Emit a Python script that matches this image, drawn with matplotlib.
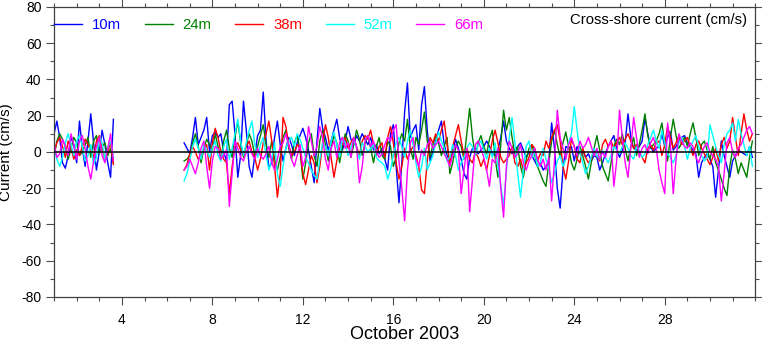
import matplotlib
matplotlib.use("Agg")
import matplotlib.pyplot as plt
from matplotlib.ticker import MultipleLocator
import numpy as np

plt.rcParams["font.family"] = ["Liberation Sans", "DejaVu Sans"]
plt.rcParams["axes.unicode_minus"] = False

# ---- data (cm/s), 3-hourly ----
depths = ["10m", "24m", "38m", "52m", "66m"]
colors = ["#0000ff", "#008000", "#ff0000", "#00ffff", "#ff00ff"]

start_a = 1.0     # first deployment piece (Oct 1.0 -> 3.6)
start_b = 6.75    # second piece (Oct 6.75 -> 31.9)
step = 0.125      # days

v10_a = [10, 17, 8, -6, -9, -2, 8, 4, -6, 17, 2, -8, 6, 21, 5, -10, 0, 12, 4, -6, -14, 18]
v24_a = [-3, 6, 10, 7, 3, -4, 2, 8, 5, -2, 0, 4, 8, -3, 6, 9, -1, 3, 5, -2, 2, -6]
v38_a = [0, 5, 8, 3, -3, 6, 2, -4, 1, -2, 3, 7, 4, 1, -3, 6, 9, 2, -4, 0, 5, -7]
v52_a = [2, -4, -8, -3, 5, 10, 4, -2, 6, 9, 3, -5, -2, 4, -7, -3, 8, 5, -4, 2, 6, -3]
v66_a = [5, -3, -1, 7, 3, -2, 10, 4, -4, 6, 9, 2, -8, -15, -5, 3, 8, -2, -6, 2, 10, -5]

v10_b = [5, 2,
         -1, 8, 19, 4, 8, 12, 19, 0,
         9, 11, 8, 10, 0, -5, 26, 28,
         10, -14, -2, 28, 12, -8, -14, -2,
         9, 12, 33, 6, -9, -6, 8, 17,
         4, -5, 2, 8, 4, -2, 5, 9,
         13, 8, 1, -8, -17, 6, 24, 13,
         8, 1, 6, 12, 18, 8, 1, 6,
         14, 7, 4, 9, 6, 10, 7, 4,
         8, 1, 4, -1, 2, -4, -10, 10,
         15, -8, -28, -6, 22, 38, 8, 12,
         15, 1, 26, 36, 12, -5, 0, 6,
         12, 17, 4, -2, -5, 0, 7, 2,
         -4, -12, -15, -3, 2, 2, -1, 1,
         3, 6, 3, -1, -2, 1, 8, 17,
         6, 2, -1, 1, 3, 5, 1, -3,
         0, -2, -5, -8, -6, -10, -8, -5,
         16, 2, -20, -31, -10, 3, 2, 3,
         -5, 3, -1, 1, -3, -1, -5, -2,
         -3, -10, -6, -1, 3, 6, 9, 2,
         -3, 1, 5, 21, 8, 2, 1, 3,
         6, 19, 10, 3, 0, 2, 3, 10,
         3, 8, 11, 1, 3, 6, 8, 9,
         5, 3, 1, -1, -14, -6, -3, -1,
         -4, -8, -25, -10, 6, -2, -8, -14,
         -5, -2, 1, 0, -1, -2, 3, -3]

v24_b = [-5, -4,
         -2, 5, 10, 3, -6, 2, 7, 4,
         1, 10, 3, -4, 6, 12, 2, -3,
         8, 17, 5, -3, 4, 10, 6, -2,
         3, 9, 15, 4, -3, 6, -4, -10,
         -3, 8, 12, 2, -4, 5, 9, 1,
         -15, -6, 5, 10, -2, -8, 6, 12,
         4, -5, 2, 9, 5, -6, 3, 10,
         6, -3, 4, 12, 7, -2, 5, 9,
         2, -6, 3, 8, -2, -4, 6, 3,
         -8, -3, 5, 10, 6, 18, 2, -4,
         8, 4, 12, 22, 6, -3, 4, 9,
         5, -2, 3, 8, -12, -6, 2, 6,
         3, -4, 10, 24, 8, -2, 5, 9,
         3, -1, 7, 12, -3, -14, 4, 23,
         12, 19, 8, -2, 3, -8, -14, -4,
         2, 4, -2, -8, -12, -16, -19, -6,
         6, 12, 4, -3, 5, 11, 3, -6,
         -10, -4, 3, -2, -8, -15, -6, 2,
         9, 1, -8, -12, -16, -6, 3, 7,
         4, 10, 2, -5, 3, 8, -2, 4,
         12, 21, 9, 2, 4, 6, 10, 16,
         4, -5, 8, 18, 9, 2, 5, 8,
         3, 10, 16, 8, -2, 4, 6, 1,
         -4, 3, -6, -10, -15, -20, -24, -8,
         1, -4, -12, -6, -10, -14, -3, 6]

v38_b = [-10, -7,
         -1, 3, 0, -4, -2, 2, 4, -10,
         5, 13, 8, 0, -4, -6, -23, -8,
         3, 5, 1, -2, 3, 6, 0, -3,
         -10, -4, 5, 10, 17, 6, -8, -25,
         -12, 19, 14, 4, -2, 0, 4, 2,
         -12, -18, -10, -2, -6, -17, -8, 5,
         15, 8, -3, -14, -5, 2, 4, 8,
         2, 5, 8, 3, -2, 6, 9, 7,
         12, 4, -2, 3, 5, -3, 8, 14,
         5, -6, -15, -8, 2, -4, 0, 3,
         -2, -8, -21, -23, -5, 8, 5, 10,
         6, 12, 17, 4, -6, 3, 9, 15,
         6, -2, 2, -4, -6, 0, -3, -8,
         -4, -10, -2, 6, 12, 5, -3, -6,
         -4, -2, 3, -6, -8, -4, -10, -6,
         -3, 4, 2, -5, -1, -2, 6, 2,
         8, 12, 15, 6, -8, -15, -5, 7,
         3, -4, -6, 2, -3, -6, -4, 1,
         -2, -5, 4, 7, 3, 6, 2, 5,
         8, 4, 7, 10, 6, 2, 4, 0,
         -3, -6, 2, 4, 1, 5, 6, -2,
         4, 14, 8, 2, 5, 9, 4, 6,
         8, 3, -2, 4, 6, 2, -1, -4,
         -7, -3, 2, -5, 4, 8, 2, 6,
         19, 8, -2, 10, 21, 12, 6, 10]

v52_b = [-16, -12,
         -5, 3, 7, 2, -4, 4, 1, -3,
         2, 6, -2, -5, 3, 7, -4, 2,
         10, 18, 6, -2, 5, 12, 17, 4,
         -3, 4, 8, -2, -10, -4, 5, -12,
         -19, -8, 2, 6, 8, 3, 10, 7,
         2, -3, -6, -10, -13, -15, -4, 5,
         3, -2, 6, 11, 4, -3, 8, 5,
         -2, 3, 7, 2, -4, 5, 3, 0,
         2, 4, -3, -5, -6, -8, -15, -10,
         -2, 5, 8, 3, -3, 6, 12, 4,
         -6, -14, -8, 2, -10, -6, -2, 5,
         11, 6, 2, -5, -3, 4, -2, -10,
         -6, -3, 2, 5, 3, -2, 4, 6,
         1, -4, 2, -3, 5, -8, -18, -30,
         -10, 8, 19, 5, -12, -25, -10, 3,
         6, -3, 0, -8, -6, 2, -4, -9,
         -17, -12, -5, -2, -8, -4, 5, 10,
         25, 12, 0, -6, -12, -8, -3, 2,
         -2, -4, 1, -3, -6, -2, 3, 1,
         -1, 3, 5, 2, -2, -4, 3, 1,
         -3, -1, 4, 8, 12, 6, 2, 12,
         5, -1, -3, -6, -2, 5, 8, 3,
         -4, 2, 6, 9, 3, -2, -5, -3,
         15, 9, 3, -2, -6, 4, 10, 12,
         16, 6, 18, 10, 4, -2, 3, -8]

v66_b = [-10, -8,
         -4, -8, -12, -6, 2, 6, -8, -20,
         -5, 3, 2, -4, -2, 1, -30, -12,
         6, 2, -3, -5, 0, 3, -1, -4,
         2, -2, -4, -1, 3, -6, -10, -4,
         3, 5, 10, 4, -4, -8, -2, 4,
         -8, -3, 14, 6, -2, 3, 14, 8,
         -4, -10, 2, 6, -3, 5, 8, 2,
         5, -3, 8, 3, -17, -8, 6, 9,
         3, 6, 0, -3, -1, 4, 8, 6,
         12, 15, -5, -20, -38, -10, 5, 8,
         -4, -8, 1, -2, 4, 6, 2, 4,
         6, 3, -1, -4, -8, -2, 4, 1,
         -23, -10, 2, -33, -15, 4, 6, 2,
         -3, -10, -19, -4, -6, 2, -20, -36,
         -8, 6, 2, -3, -1, 4, -6, -10,
         -5, -2, 2, -4, -8, -4, -10, -3,
         -27, -5, 23, 8, 2, -4, 4, 8,
         3, -2, 6, 2, 4, 8, 3, -2,
         2, -4, 0, -3, 3, 6, -19, -5,
         23, 8, -6, -14, 2, 19, 8, -3,
         2, 4, -1, 5, 8, 2, -10, -17,
         -23, 16, 4, -23, -4, 10, 6, 3,
         2, 5, 3, -3, -6, -1, 3, 5,
         0, -2, -4, -8, -27, -12, 5, 8,
         0, -3, 2, 4, 8, 12, 14, 10]

pieces_a = [v10_a, v24_a, v38_a, v52_a, v66_a]
pieces_b = [v10_b, v24_b, v38_b, v52_b, v66_b]

# ---- figure ----
fig = plt.figure(figsize=(7.62, 3.42), dpi=100)
ax = fig.add_axes([0.0709, 0.1316, 0.9202, 0.8484])

handles = []
for va, vb, lab, col in zip(pieces_a, pieces_b, depths, colors):
    ta = start_a + step * np.arange(len(va))
    tb = start_b + step * np.arange(len(vb))
    ax.plot(ta, va, color=col, lw=1.0)
    h, = ax.plot(tb, vb, color=col, lw=1.0, label=lab)
    handles.append(h)

ax.axhline(0, color="black", lw=1.1, zorder=10)

ax.set_xlim(1, 32)
ax.set_ylim(-80, 80)
ax.set_xticks([4, 8, 12, 16, 20, 24, 28])
ax.xaxis.set_minor_locator(MultipleLocator(1))
ax.yaxis.set_major_locator(MultipleLocator(20))
ax.yaxis.set_minor_locator(MultipleLocator(10))
ax.tick_params(which="both", direction="out", top=True, right=True,
               labelsize=10, width=0.8, color="0.3")
ax.tick_params(which="major", length=5.5)
ax.tick_params(which="minor", length=3)
ax.tick_params(axis="x", pad=6)
ax.tick_params(axis="y", pad=3.5)
for s in ax.spines.values():
    s.set_linewidth(0.9)
    s.set_color("0.25")

ax.set_xlabel("October 2003", fontsize=13, labelpad=-1)
ax.set_ylabel("Current (cm/s)", fontsize=11)
ax.yaxis.set_label_coords(-0.058, 0.5)

ax.text(0.9886, 0.955, "Cross-shore current (cm/s)", transform=ax.transAxes,
        ha="right", va="center", fontsize=10.7)

ax.legend(handles=handles, ncol=5, loc="center left", bbox_to_anchor=(0, 0.938),
          frameon=False, fontsize=10.7, handlelength=1.88, handletextpad=0.67,
          columnspacing=1.59, borderpad=0, borderaxespad=0,
          labelcolor="linecolor")

fig.savefig("out.png", dpi=100)
